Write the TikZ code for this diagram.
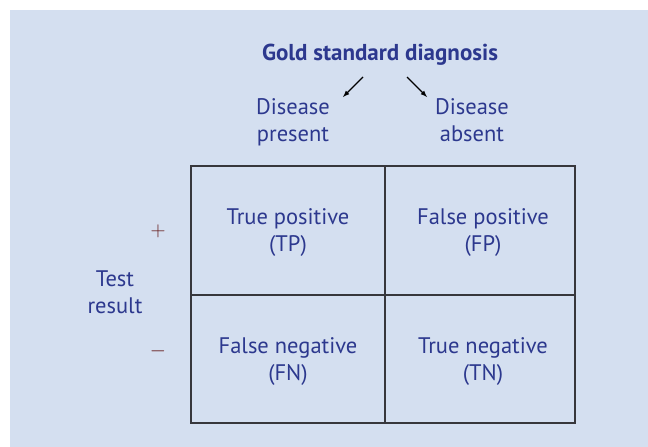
\documentclass[tikz,border=0pt]{standalone}
\usepackage{fontspec}
\setmainfont{PT Sans}
\usetikzlibrary{positioning}
\definecolor{bgblue}{RGB}{212,223,240}
\definecolor{txtblue}{RGB}{44,56,142}
\definecolor{signred}{RGB}{100,25,25}
\definecolor{gridgray}{RGB}{55,55,60}

\begin{document}
\begin{tikzpicture}[x=1pt,y=-1pt]
		\tikzset{>=latex}
		\tikzset{lbl/.style={text=txtblue,font=\fontsize{22.5}{27.7}\selectfont,align=center,inner sep=0pt,anchor=base}}
		\tikzset{sign/.style={text=signred,font=\fontsize{22}{24}\selectfont,inner sep=0pt}}
		\useasboundingbox (0,0) rectangle (648,447);
		\fill[bgblue] (10,10) rectangle (648,447);
		
		\coordinate (NW) at (191,166);
		\coordinate (SE) at (575,423);
		\coordinate (N) at (385,166);
		\coordinate (S) at (385,423);
		\coordinate (W) at (191,295);
		\coordinate (E) at (575,295);
		
		\draw[gridgray,line width=1.2pt] (NW) rectangle (SE);
		\draw[gridgray,line width=1.2pt] (N) -- (S);
		\draw[gridgray,line width=1.2pt] (W) -- (E);
		
		% base anchor = baseline of the last line
		\node[lbl,font=\bfseries\fontsize{23}{27.7}\selectfont] (gold) at (380,60) {Gold standard diagnosis};
		\node[lbl] (present) at (293,141.7) {Disease\\present};
		\node[lbl] (absent) at (472,141.7) {Disease\\absent};
		
		\coordinate (a1) at (363,77);
		\coordinate (a2) at (343,97);
		\coordinate (b1) at (407,77);
		\coordinate (b2) at (427,97);
		\draw[->,line width=1.2pt] (a1) -- (a2);
		\draw[->,line width=1.2pt] (b1) -- (b2);
		
		\node[lbl] (tp) at (288,251.7) {True positive\\(TP)};
		\node[lbl] (fp) at (483,251.7) {False positive\\(FP)};
		\node[lbl] (fn) at (288,380.7) {False negative\\(FN)};
		\node[lbl] (tn) at (483,380.7) {True negative\\(TN)};
		
		\node[lbl] (test) at (115,313.7) {Test\\result};
		\node[sign] (plus) at (158,231) {$+$};
		\node[sign] (minus) at (158,351) {$-$};
		\end{tikzpicture}
\end{document}
